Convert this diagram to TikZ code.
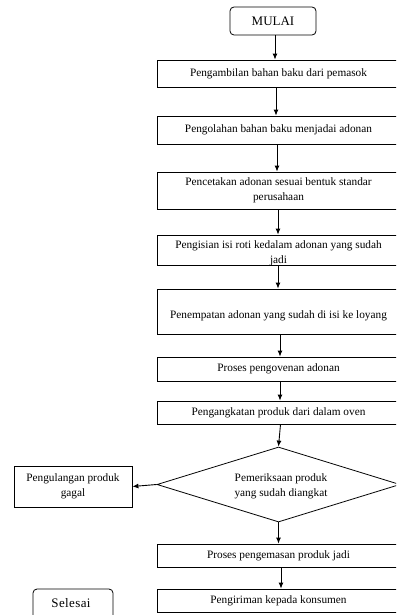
\documentclass[tikz,border=0pt]{standalone}
\usepackage{fontspec}
\setmainfont{Liberation Serif}
\newfontfamily\spacedfont[LetterSpace=3]{Liberation Serif}
\usetikzlibrary{shapes.geometric,arrows.meta}
\begin{document}
\begin{tikzpicture}[x=1pt,y=-1pt,
  txt/.style={font=\fontsize{11.3}{15}\selectfont},
  box/.style={draw,line width=0.8pt,minimum width=243pt,align=center,inner sep=0pt,txt},
  term/.style={draw,line width=0.8pt,rounded corners=4pt,align=center,inner sep=0pt,font=\fontsize{13}{15}\selectfont},
  arr/.style={line width=0.9pt,-{Latex[length=6pt,width=5pt]}}]
\useasboundingbox (0,0) rectangle (396,615);
\clip (0,0) rectangle (396,615);
\node[term,minimum width=86pt,minimum height=28pt] (start) at (273,21) {MULAI};
\node[box,minimum height=27pt] (b1) at (278.5,73.5) {Pengambilan bahan baku dari pemasok};
\node[box,minimum height=28pt] (b2) at (278.5,130) {Pengolahan bahan baku menjadai adonan};
\node[box,minimum height=37pt] (b3) at (278.5,190.5) {Pencetakan adonan sesuai bentuk standar\\perusahaan};
\node[box,minimum height=30pt] (b4) at (278.5,250) {};
\node[txt,align=center,inner sep=0pt] (b4t) at (278.5,253) {Pengisian isi roti kedalam adonan yang sudah\\jadi};
\node[box,minimum height=45pt] (b5) at (278.5,311.5) {};
\node[txt,inner sep=0pt] (b5t) at (278.5,316) {Penempatan adonan yang sudah di isi ke loyang};
\node[box,minimum height=24pt] (b6) at (278.5,369) {Proses pengovenan adonan};
\node[box,minimum height=23pt] (b7) at (278.5,412.5) {Pengangkatan produk dari dalam oven};
\node[diamond,draw,line width=0.8pt,minimum width=243pt,minimum height=75pt,inner sep=0pt] (d) at (278.5,484.5) {};
\node[txt,align=center,inner sep=0pt] (dt) at (281,486) {Pemeriksaan produk\\yang sudah diangkat};
\node[draw,line width=0.8pt,minimum width=118pt,minimum height=41pt,inner sep=0pt,align=center,txt] (fail) at (73,486.5) {Pengulangan produk\\gagal};
\node[box,minimum height=23pt] (b8) at (278.5,555.5) {Proses pengemasan produk jadi};
\node[box,minimum height=23pt] (b9) at (278.5,600.5) {Pengiriman kepada konsumen};
\node[term,minimum width=80pt,minimum height=32pt] (end) at (73,605) {};
\node[font=\spacedfont\fontsize{13}{15}\selectfont] (endt) at (71,603) {Selesai};
\draw[arr] (start.south -| 275,0) -- (b1.north -| 275,0);
\draw[arr] (b1.south -| 276,0) -- (b2.north -| 276,0);
\draw[arr] (b2.south -| 277,0) -- (b3.north -| 277,0);
\draw[arr] (b3.south -| 278,0) -- (b4.north -| 278,0);
\draw[arr] (b4.south -| 278,0) -- (b5.north -| 278,0);
\draw[arr] (b5.south -| 280,0) -- (b6.north -| 280,0);
\draw[arr] (b6.south -| 280,0) -- (b7.north -| 280,0);
\draw[arr] (b7.south -| 280.5,0) -- (d.north);
\draw[arr] (d.west) -- (fail.east);
\draw[arr] (d.south) -- (b8.north -| d.south);
\draw[arr] (b8.south -| 281,0) -- (b9.north -| 281,0);
\end{tikzpicture}
\end{document}
